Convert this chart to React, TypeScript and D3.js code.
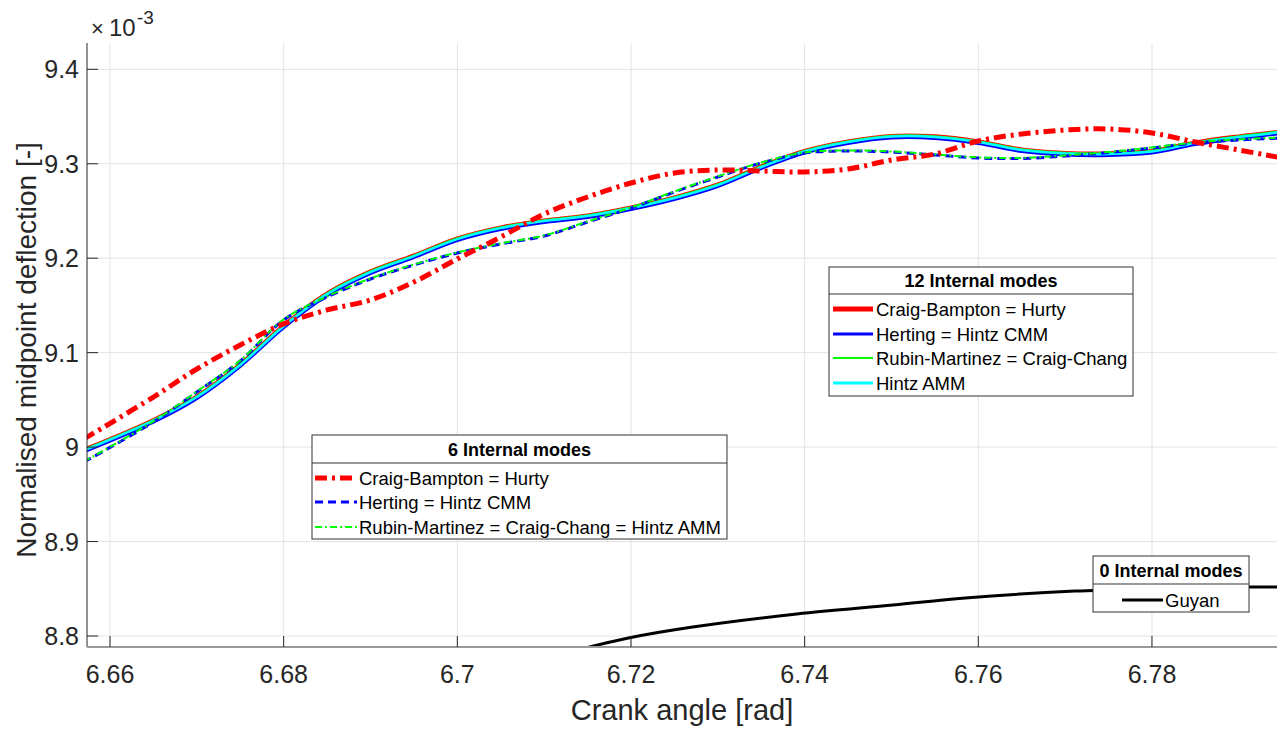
import React from 'react';
import * as d3 from 'd3';

// Crank angle samples [rad]
const angle = [6.657, 6.665, 6.670, 6.675, 6.680, 6.685, 6.690, 6.695, 6.700, 6.705, 6.710, 6.715, 6.720, 6.725,
  6.730, 6.735, 6.740, 6.745, 6.750, 6.755, 6.760, 6.765, 6.770, 6.775, 6.780, 6.785, 6.790, 6.795];

// 12 internal modes (x1e-3)
const cb12 = [8.9972, 9.0287, 9.0537, 9.0877, 9.1287, 9.1627, 9.1860, 9.2029, 9.2209, 9.2326, 9.2400, 9.2453, 9.2538, 9.2644,
  9.2781, 9.2972, 9.3136, 9.3237, 9.3295, 9.3290, 9.3237, 9.3152, 9.3115, 9.3110, 9.3136, 9.3226, 9.3290, 9.3343];
const rm12 = [8.9976, 9.0291, 9.0541, 9.0881, 9.1291, 9.1631, 9.1864, 9.2033, 9.2213, 9.2330, 9.2404, 9.2457, 9.2542, 9.2648,
  9.2785, 9.2976, 9.3140, 9.3241, 9.3299, 9.3294, 9.3241, 9.3156, 9.3119, 9.3114, 9.3140, 9.3230, 9.3294, 9.3347];
const her12 = [8.9947, 9.0262, 9.0511, 9.0851, 9.1261, 9.1601, 9.1835, 9.2004, 9.2184, 9.2301, 9.2375, 9.2428, 9.2513, 9.2619,
  9.2756, 9.2947, 9.3111, 9.3212, 9.3270, 9.3265, 9.3212, 9.3127, 9.3090, 9.3085, 9.3111, 9.3201, 9.3265, 9.3318];
const amm12 = [8.9965, 9.0280, 9.0530, 9.0870, 9.1280, 9.1620, 9.1853, 9.2022, 9.2202, 9.2319, 9.2393, 9.2446, 9.2531, 9.2637,
  9.2774, 9.2965, 9.3129, 9.3230, 9.3288, 9.3283, 9.3230, 9.3145, 9.3108, 9.3103, 9.3129, 9.3219, 9.3283, 9.3336];

// 6 internal modes (x1e-3)
const cb6 = [9.0086, 9.0530, 9.0827, 9.1081, 9.1304, 9.1452, 9.1558, 9.1748, 9.1992, 9.2224, 9.2468, 9.2648, 9.2796, 9.2902,
  9.2934, 9.2923, 9.2913, 9.2944, 9.3040, 9.3103, 9.3241, 9.3315, 9.3357, 9.3368, 9.3326, 9.3230, 9.3146, 9.3061];
const her6 = [8.9842, 9.0266, 9.0583, 9.0912, 9.1346, 9.1589, 9.1780, 9.1928, 9.2055, 9.2151, 9.2235, 9.2383, 9.2531, 9.2701,
  9.2860, 9.3008, 9.3114, 9.3135, 9.3124, 9.3093, 9.3061, 9.3056, 9.3082, 9.3119, 9.3167, 9.3220, 9.3252, 9.3273];
const rm6 = [8.9848, 9.0272, 9.0589, 9.0918, 9.1352, 9.1595, 9.1786, 9.1934, 9.2061, 9.2157, 9.2241, 9.2389, 9.2537, 9.2707,
  9.2866, 9.3014, 9.3120, 9.3141, 9.3130, 9.3099, 9.3067, 9.3062, 9.3088, 9.3125, 9.3173, 9.3226, 9.3258, 9.3279];

// 0 internal modes (Guyan)
const guyanAngle = [6.714, 6.7197, 6.7271, 6.7391, 6.7502, 6.7585, 6.7711, 6.7800, 6.7912, 6.795];
const guyan = [8.7855, 8.7979, 8.8095, 8.8233, 8.8328, 8.8402, 8.8476, 8.8500, 8.8519, 8.8519];

const xTicks = [6.66, 6.68, 6.70, 6.72, 6.74, 6.76, 6.78];
const xTickLabels = ['6.66', '6.68', '6.7', '6.72', '6.74', '6.76', '6.78'];
const yTicks = [8.8, 8.9, 9.0, 9.1, 9.2, 9.3, 9.4];
const yTickLabels = ['8.8', '8.9', '9', '9.1', '9.2', '9.3', '9.4'];

const legend12 = ['Craig-Bampton = Hurty', 'Herting = Hintz CMM', 'Rubin-Martinez = Craig-Chang', 'Hintz AMM'];
const legend6 = ['Craig-Bampton = Hurty', 'Herting = Hintz CMM', 'Rubin-Martinez = Craig-Chang = Hintz AMM'];
const legend0 = ['Guyan'];

const FONT = '"Liberation Sans", Arial, Helvetica, sans-serif';

const styles12 = [
  { color: '#ff0000', width: 5, dash: undefined },
  { color: '#0000ff', width: 3, dash: undefined },
  { color: '#00ff00', width: 2, dash: undefined },
  { color: '#00ffff', width: 3, dash: undefined },
];
const styles6 = [
  { color: '#ff0000', width: 5, dash: '12,5,3,5' },
  { color: '#0000ff', width: 3, dash: '8,5' },
  { color: '#00ff00', width: 2, dash: '7,3,2,3' },
];

export default function App() {
  const W = 1277, H = 729;
  const left = 87, right = 1277, top = 43, bottom = 647;
  const x = d3.scaleLinear().domain([6.65735, 6.7944]).range([left, right]);
  const y = d3.scaleLinear().domain([8.78835, 9.42785]).range([bottom, top]);

  const mk = (xs: number[]) => d3.line<number>()
    .x((_, i) => x(xs[i]))
    .y((d) => y(d))
    .curve(d3.curveCatmullRom.alpha(0.5));
  const line = mk(angle);
  const gLine = mk(guyanAngle);

  const series12 = [cb12, her12, rm12, amm12];
  const order12 = [0, 2, 1, 3];
  const series6 = [cb6, her6, rm6];
  const order6 = [1, 2, 0];

  const Legend = ({ x0, y0, w, h, divY, title, labels, styles, rowY, sx0, sx1, tx }: any) => (
    <g>
      <rect x={x0} y={y0} width={w} height={h} fill="#fff" stroke="#333" strokeWidth={1} />
      <line x1={x0} x2={x0 + w} y1={divY} y2={divY} stroke="#333" strokeWidth={1} />
      <text x={x0 + w / 2} y={divY - 7} textAnchor="middle" fontFamily={FONT} fontWeight="bold" fontSize={18} fill="#000">{title}</text>
      {labels.map((lab: string, i: number) => (
        <g key={i}>
          <line x1={sx0} x2={sx1} y1={rowY[i]} y2={rowY[i]} stroke={styles[i].color} strokeWidth={styles[i].width} strokeDasharray={styles[i].dash} />
          <text x={tx} y={rowY[i] + 6.5} fontFamily={FONT} fontSize={18.5} fill="#000">{lab}</text>
        </g>
      ))}
    </g>
  );

  return (
    <svg width={W} height={H} style={{ position: 'absolute', left: 0, top: 0, background: '#fff' }}>
      <defs>
        <clipPath id="plotclip">
          <rect x={left} y={top} width={right - left} height={bottom - top} />
        </clipPath>
      </defs>
      <rect x={0} y={0} width={W} height={H} fill="#fff" />
      {/* grid */}
      {xTicks.map((t) => (
        <line key={'gx' + t} x1={x(t)} x2={x(t)} y1={top} y2={bottom} stroke="#e3e3e3" strokeWidth={1} />
      ))}
      {yTicks.map((t) => (
        <line key={'gy' + t} x1={left} x2={right} y1={y(t)} y2={y(t)} stroke="#e3e3e3" strokeWidth={1} />
      ))}
      {/* curves */}
      <g clipPath="url(#plotclip)" fill="none">
        {order12.map((k) => (
          <path key={'s12' + k} d={line(series12[k]) || ''} stroke={styles12[k].color} strokeWidth={styles12[k].width - (k === 0 ? 1 : 0.5)} />
        ))}
        {order6.map((k) => (
          <path key={'s6' + k} d={line(series6[k]) || ''} stroke={styles6[k].color} strokeWidth={styles6[k].width} strokeDasharray={styles6[k].dash} />
        ))}
        <path d={gLine(guyan) || ''} stroke="#000" strokeWidth={3} />
      </g>
      {/* axes */}
      <line x1={left} x2={left} y1={top} y2={bottom} stroke="#262626" strokeWidth={1} />
      <line x1={left} x2={right} y1={bottom} y2={bottom} stroke="#9a9a9a" strokeWidth={2} />
      {yTicks.map((t, i) => (
        <g key={'yt' + t}>
          <line x1={left} x2={left + 11} y1={y(t)} y2={y(t)} stroke="#262626" strokeWidth={1} />
          <text x={79} y={y(t) + 9} textAnchor="end" fontFamily={FONT} fontSize={25} fill="#262626">{yTickLabels[i]}</text>
        </g>
      ))}
      {xTicks.map((t, i) => (
        <g key={'xt' + t}>
          <line x1={x(t)} x2={x(t)} y1={bottom} y2={bottom - 11} stroke="#262626" strokeWidth={1} />
          <text x={x(t)} y={683} textAnchor="middle" fontFamily={FONT} fontSize={25} fill="#262626">{xTickLabels[i]}</text>
        </g>
      ))}
      {/* exponent */}
      <text x={91} y={36} fontFamily={FONT} fontSize={22} fill="#262626">×</text>
      <text x={109} y={36} fontFamily={FONT} fontSize={24} fill="#262626">10</text>
      <text x={137} y={24} fontFamily={FONT} fontSize={19} fill="#262626">-3</text>
      {/* axis labels */}
      <text x={682} y={720} textAnchor="middle" fontFamily={FONT} fontSize={29} fill="#262626">Crank angle [rad]</text>
      <text transform={`translate(36,350) rotate(-90)`} textAnchor="middle" fontFamily={FONT} fontSize={28} fill="#262626">Normalised midpoint deflection [-]</text>
      {/* legends */}
      <Legend x0={829} y0={267} w={304} h={129} divY={294} title="12 Internal modes" labels={legend12}
        styles={styles12} rowY={[309, 334, 358, 383]} sx0={833} sx1={873} tx={876} />
      <Legend x0={312} y0={435} w={415} h={104} divY={463} title="6 Internal modes" labels={legend6}
        styles={styles6} rowY={[478, 502, 527]} sx0={315} sx1={357} tx={359} />
      <Legend x0={1093} y0={556} w={156} h={56} divY={584} title="0 Internal modes" labels={legend0}
        styles={[{ color: '#000', width: 3 }]} rowY={[600]} sx0={1122} sx1={1163} tx={1165} />
    </svg>
  );
}
